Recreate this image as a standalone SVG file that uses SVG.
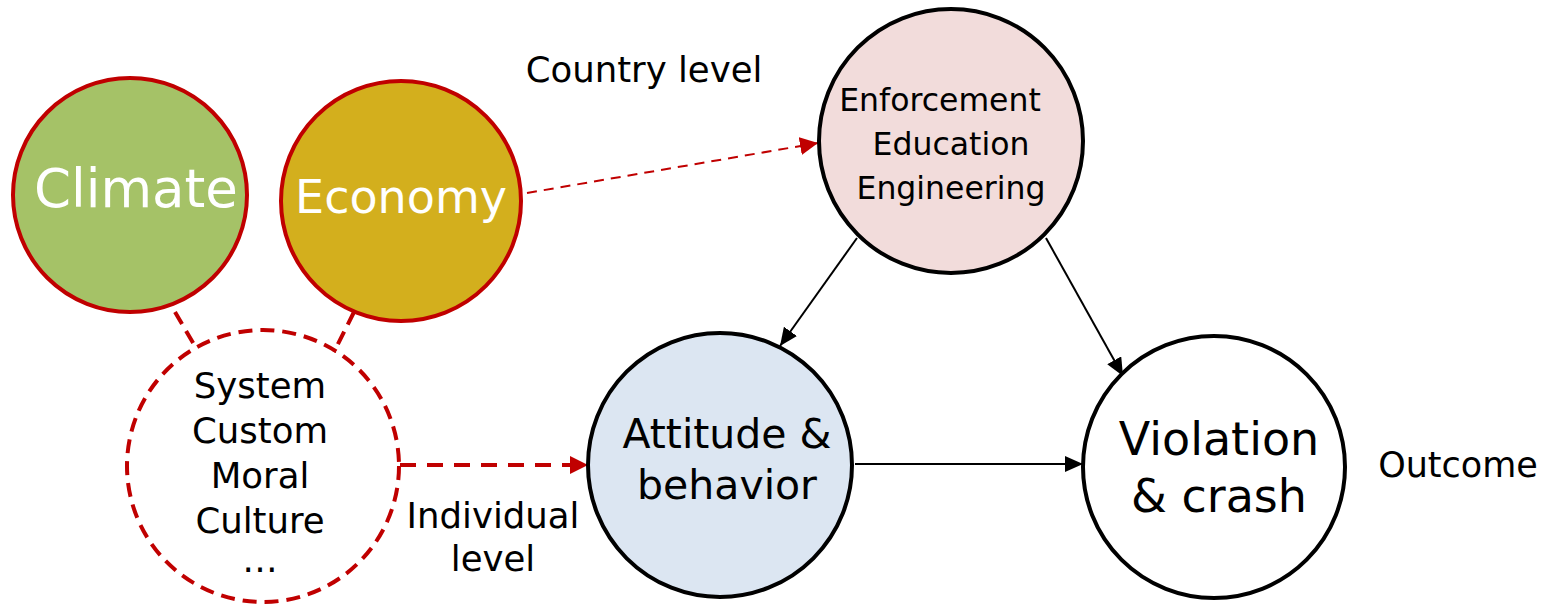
<svg xmlns="http://www.w3.org/2000/svg" width="1546" height="604" viewBox="0 0 1546 604">
<defs>
<style>
text{font-family:"DejaVu Sans","Noto Sans",sans-serif;fill:#000;text-anchor:middle}
.w{fill:#fff}
.red{fill:none;stroke:#C00000}
.blk{stroke:#000;stroke-width:4}
.ln{stroke:#000;stroke-width:2;fill:none}
</style>
<marker id="ab" markerUnits="userSpaceOnUse" markerWidth="20" markerHeight="16" refX="18" refY="8" orient="auto"><path d="M0,0 L18,8 L0,16 Z" fill="#000"/></marker>
<marker id="ar" markerUnits="userSpaceOnUse" markerWidth="20" markerHeight="18" refX="18" refY="9" orient="auto"><path d="M0,0 L18,9 L0,18 Z" fill="#C00000"/></marker>
</defs>
<rect width="1546" height="604" fill="#fff"/>
<g id="connectors">
<line x1="175" y1="312" x2="196" y2="348" class="red" stroke-width="4" stroke-dasharray="14 8"/>
<line x1="354" y1="312" x2="334" y2="352" class="red" stroke-width="4" stroke-dasharray="14 8"/>
<line x1="527" y1="193" x2="818" y2="143" class="red" stroke-width="2" stroke-dasharray="10 7" marker-end="url(#ar)"/>
<line x1="400" y1="465" x2="588" y2="465" class="red" stroke-width="4" stroke-dasharray="16 11" marker-end="url(#ar)"/>
<line x1="857" y1="238" x2="780" y2="346" class="ln" marker-end="url(#ab)"/>
<line x1="1046" y1="238" x2="1123" y2="376" class="ln" marker-end="url(#ab)"/>
<line x1="855" y1="464" x2="1083" y2="464" class="ln" marker-end="url(#ab)"/>
</g>
<g id="climate">
<circle cx="130" cy="195" r="117" fill="#A5C267" stroke="#C00000" stroke-width="4"/>
<text x="136" y="207" class="w" font-size="53">Climate</text>
</g>
<g id="economy">
<circle cx="401" cy="201" r="120" fill="#D3AF1D" stroke="#C00000" stroke-width="4"/>
<text x="401" y="213" class="w" font-size="46">Economy</text>
</g>
<g id="system">
<circle cx="263" cy="466" r="136" class="red" stroke-width="4" stroke-dasharray="14 8"/>
<text x="260" y="398" font-size="35.5">System</text>
<text x="260" y="443" font-size="35.5">Custom</text>
<text x="260" y="488" font-size="35.5">Moral</text>
<text x="260" y="533" font-size="35.5">Culture</text>
<text x="260" y="572" font-size="35.5">…</text>
</g>
<g id="enforcement">
<circle cx="951" cy="141" r="132" fill="#F2DCDB" class="blk"/>
<text x="940" y="111" font-size="31.5">Enforcement</text>
<text x="951" y="155" font-size="31.5">Education</text>
<text x="951" y="199" font-size="31.5">Engineering</text>
</g>
<g id="attitude">
<circle cx="720" cy="465" r="132" fill="#DCE6F2" class="blk"/>
<text x="727" y="448" font-size="41">Attitude &amp;</text>
<text x="727" y="499" font-size="41">behavior</text>
</g>
<g id="violation">
<circle cx="1214" cy="467" r="131" fill="#fff" class="blk"/>
<text x="1219" y="455" font-size="46">Violation</text>
<text x="1219" y="512" font-size="46">&amp; crash</text>
</g>
<g id="labels">
<text x="644" y="82" font-size="35.5">Country level</text>
<text x="493" y="528" font-size="35.5">Individual</text>
<text x="493" y="571" font-size="35.5">level</text>
<text x="1458" y="477" font-size="35">Outcome</text>
</g>
</svg>
